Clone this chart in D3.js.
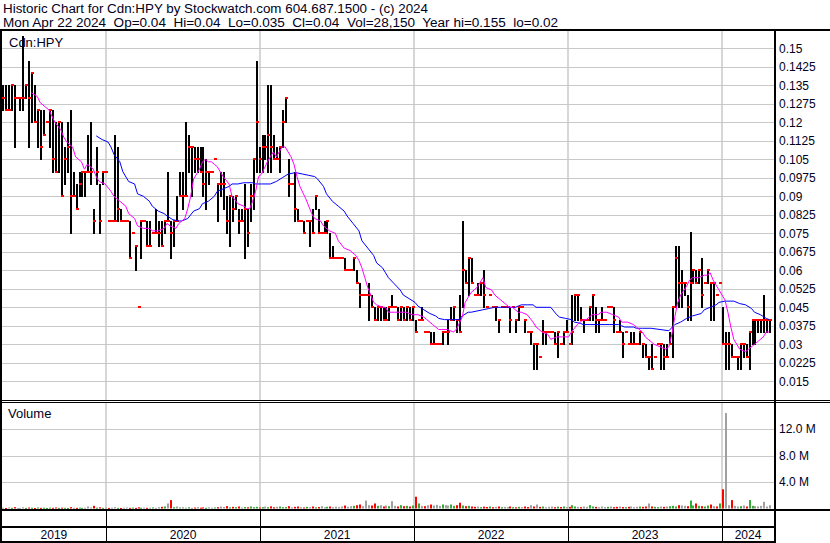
<!DOCTYPE html>
<html><head><meta charset="utf-8">
<script src="https://cdn.jsdelivr.net/npm/d3@7"></script>
<style>body{margin:0;background:#fff;overflow:hidden}svg{display:block}text{font-family:"Liberation Sans",Arial,sans-serif;fill:#000022}</style>
</head><body><svg id="c" width="830" height="543"></svg>
<script>
// ---- data (weekly, first week 2019-04-29) ----
const highs=[.135,.135,.135,.135,.135,.13,.13,.155,.135,.145,.14,.135,.125,.125,.125,.12,.125,.125,.12,.12,
.12,.11,.12,.125,.10,.095,.10,.10,.10,.115,.12,.085,.11,.095,.10,.10,.08,.08,.115,.11,
.085,.08,.08,.08,.075,.07,.045,.08,.08,.08,.08,.075,.085,.08,.08,.08,.10,.08,.08,.09,
.10,.10,.12,.115,.11,.11,.11,.11,.11,.105,.10,.10,.105,.095,.10,.10,.09,.09,.09,.09,
.085,.085,.095,.085,.095,.105,.145,.11,.115,.115,.135,.135,.115,.11,.11,.125,.13,.105,.095,.10,
.085,.08,.08,.08,.08,.085,.09,.085,.075,.08,.08,.075,.07,.065,.065,.065,.065,.06,.06,.065,
.06,.055,.05,.05,.055,.05,.045,.045,.045,.045,.045,.045,.05,.045,.045,.045,.045,.045,.045,.045,
.04,.04,.045,.035,.035,.035,.035,.03,.03,.035,.035,.04,.045,.045,.04,.05,.08,.06,.065,.065,
.05,.055,.055,.06,.045,.05,.045,.045,.04,.045,.045,.045,.045,.045,.04,.045,.045,.04,.035,.035,
.03,.03,.025,.04,.035,.035,.035,.035,.035,.03,.035,.04,.03,.05,.05,.05,.045,.04,.04,.045,
.05,.045,.04,.045,.04,.045,.045,.045,.035,.04,.035,.035,.03,.035,.035,.03,.035,.03,.03,.025,
.03,.025,.03,.03,.03,.03,.035,.045,.07,.07,.06,.055,.05,.0755,.06,.06,.06,.065,.055,.06,
.055,.055,.05,.055,.045,.035,.035,.03,.025,.025,.03,.03,.03,.035,.04,.04,.04,.04,.05,.04,.04];
const lows=[.125,.125,.125,.125,.11,.13,.125,.125,.13,.11,.12,.12,.11,.105,.115,.12,.11,.10,.10,.10,
.09,.095,.10,.075,.09,.085,.09,.09,.09,.10,.095,.075,.095,.075,.095,.10,.08,.08,.08,.08,
.08,.08,.08,.065,.075,.06,.045,.065,.08,.07,.07,.075,.075,.07,.07,.075,.08,.065,.07,.08,
.09,.085,.09,.10,.09,.10,.10,.10,.09,.085,.095,.10,.105,.08,.09,.085,.075,.07,.08,.085,
.075,.08,.065,.07,.08,.085,.10,.10,.10,.105,.10,.10,.105,.105,.10,.11,.12,.09,.095,.08,
.08,.08,.075,.08,.07,.075,.085,.075,.075,.075,.075,.065,.065,.065,.065,.065,.06,.06,.06,.06,
.055,.045,.05,.05,.04,.045,.04,.04,.04,.04,.04,.04,.045,.045,.04,.04,.04,.04,.04,.04,
.035,.04,.04,.035,.035,.03,.03,.03,.03,.03,.035,.03,.04,.04,.035,.035,.045,.055,.05,.055,
.05,.05,.05,.045,.045,.05,.045,.04,.035,.045,.045,.045,.035,.045,.035,.04,.045,.035,.035,.03,
.02,.02,.025,.03,.03,.035,.035,.03,.025,.03,.03,.035,.03,.03,.04,.04,.04,.035,.04,.04,
.04,.035,.035,.04,.04,.045,.045,.035,.035,.035,.025,.035,.03,.03,.03,.03,.03,.025,.025,.02,
.02,.025,.03,.02,.02,.025,.03,.025,.045,.045,.045,.05,.04,.04,.055,.055,.055,.045,.055,.055,
.04,.04,.05,.055,.03,.02,.02,.025,.025,.02,.02,.025,.025,.02,.03,.03,.035,.035,.035,.035,.035];
const closes=[.13,.125,.125,.135,.13,.13,.13,.13,.135,.13,.14,.12,.125,.11,.115,.12,.125,.105,.10,.12,
.09,.105,.11,.09,.09,.085,.095,.10,.10,.10,.10,.08,.10,.08,.10,.10,.08,.08,.08,.085,
.08,.08,.08,.065,.075,.07,.045,.08,.08,.07,.07,.075,.075,.075,.07,.08,.08,.075,.08,.08,
.09,.09,.09,.11,.11,.105,.105,.10,.095,.10,.10,.10,.105,.095,.095,.095,.08,.09,.085,.09,
.08,.08,.085,.075,.09,.105,.12,.105,.11,.11,.115,.11,.105,.105,.11,.12,.13,.095,.095,.085,
.08,.08,.075,.08,.08,.075,.09,.075,.075,.075,.08,.065,.065,.065,.065,.065,.06,.06,.06,.065,
.055,.05,.05,.05,.05,.045,.04,.045,.045,.04,.04,.045,.045,.045,.04,.045,.04,.045,.04,.045,
.035,.04,.04,.035,.035,.03,.03,.03,.03,.035,.035,.035,.04,.045,.04,.035,.06,.055,.065,.055,
.05,.05,.055,.05,.045,.05,.045,.045,.04,.045,.045,.045,.04,.045,.04,.045,.045,.04,.035,.035,
.03,.03,.025,.035,.035,.035,.035,.03,.035,.03,.035,.035,.03,.035,.05,.05,.04,.04,.04,.045,
.05,.04,.04,.04,.04,.045,.045,.04,.035,.035,.03,.035,.03,.03,.03,.03,.035,.03,.025,.025,
.02,.025,.03,.03,.025,.025,.03,.045,.065,.055,.055,.055,.045,.055,.06,.055,.06,.05,.055,.06,
.055,.055,.05,.055,.03,.03,.03,.025,.025,.025,.03,.03,.025,.035,.04,.04,.04,.04,.04,.04,.04];
const volumes=[0.12,0.08,0.15,0.1,0.2,0.06,0.1,0.18,0.09,0.14,0.11,0.07,0.16,0.1,0.12,0.08,0.13,0.1,0.15,0.09,
0.12,0.1,0.08,0.2,0.11,0.09,0.14,0.1,0.12,0.3,0.15,0.4,0.12,0.18,0.1,0.14,0.09,0.12,0.2,0.1,
0.08,0.12,0.15,0.1,0.13,0.09,0.18,0.11,0.14,0.1,0.12,0.16,0.1,0.2,0.25,0.3,0.76,1.27,0.2,0.3,
0.15,0.2,0.12,0.18,0.1,0.14,0.2,0.12,0.16,0.1,0.18,0.12,0.15,0.2,0.3,0.22,0.36,0.18,0.25,0.2,
0.3,0.15,0.22,0.18,0.3,0.2,0.25,0.15,0.2,0.28,0.2,0.32,0.18,0.25,0.3,0.2,0.22,0.35,0.18,0.25,
0.3,0.2,0.15,0.25,0.2,0.3,0.18,0.22,0.35,0.2,0.25,0.3,0.2,0.28,0.22,0.3,0.45,0.25,0.35,0.4,
0.5,0.6,0.35,1.2,0.5,0.45,0.76,0.4,0.5,0.3,0.45,0.35,1.1,0.4,0.3,0.5,0.35,0.4,0.3,0.45,
1.78,0.76,0.4,0.35,0.5,0.6,0.45,0.55,0.4,0.6,0.5,0.45,0.6,0.4,0.5,0.87,0.45,0.35,0.4,0.3,
0.25,0.3,0.2,0.28,0.22,0.3,0.2,0.25,0.3,0.2,0.25,0.22,0.3,0.2,0.18,0.25,0.2,0.3,0.22,0.5,
0.3,0.6,0.25,0.3,0.2,0.25,0.3,0.2,0.28,0.22,0.3,0.2,0.25,0.5,0.3,0.25,0.2,0.3,0.25,0.5,
0.3,0.25,0.2,0.3,0.22,0.25,0.3,0.2,0.25,0.3,0.22,0.2,0.25,0.3,0.2,0.25,0.3,0.25,0.3,0.76,
0.3,0.25,0.2,0.3,0.25,0.3,0.35,0.4,0.3,0.5,0.45,0.4,0.35,1.2,0.45,0.76,0.4,0.35,0.3,0.45,
0.6,0.35,0.3,0.76,2.9,14.4,0.5,1.27,0.4,0.3,0.35,0.45,0.3,1.27,0.4,0.35,0.3,0.4,1.0,0.3,0.5];
// moving averages: [week index, value]
const maFast=[[10,.132],[12,.1305],[13,.128],[15,.126],[16,.125],[18,.12],[20,.117],[21,.114],[22,.112],[24,.11],[25,.106],[27,.104],[28,.101],[29,.103],[31,.101],[32,.098],[33,.096],[35,.095],[37,.092],[38,.09],[40,.088],[42,.086],[43,.083],[45,.081],[46,.078],[48,.077],[50,.077],[51,.076],[53,.076],[55,.077],[56,.079],[57,.078],[59,.077],[60,.079],[62,.081],[63,.085],[64,.09],[65,.097],[67,.101],[68,.104],[69,.105],[70,.104],[71,.104],[72,.103],[73,.102],[75,.098],[77,.095],[78,.09],[80,.087],[82,.086],[83,.085],[84,.085],[85,.088],[86,.092],[87,.098],[88,.099],[90,.104],[91,.106],[92,.108],[93,.106],[94,.108],[95,.11],[96,.11],[97,.108],[98,.106],[99,.103],[100,.098],[101,.094],[103,.089],[104,.086],[105,.083],[106,.081],[108,.08],[109,.078],[111,.076],[113,.075],[114,.072],[116,.069],[118,.068],[120,.066],[121,.064],[122,.061],[123,.057],[124,.053],[125,.05],[126,.047],[127,.046],[129,.045],[130,.045],[131,.043],[133,.043],[135,.043],[137,.043],[139,.042],[141,.042],[143,.041],[144,.04],[146,.038],[148,.036],[149,.036],[151,.036],[153,.035],[154,.036],[156,.041],[157,.047],[158,.049],[159,.051],[161,.053],[162,.055],[163,.057],[164,.053],[166,.052],[167,.05],[169,.048],[171,.046],[172,.045],[173,.045],[175,.043],[176,.043],[178,.042],[180,.039],[181,.037],[183,.035],[185,.034],[186,.032],[188,.033],[190,.033],[192,.033],[193,.035],[195,.038],[197,.04],[198,.04],[200,.042],[202,.042],[203,.043],[205,.043],[207,.042],[209,.041],[210,.039],[212,.039],[214,.038],[215,.037],[217,.035],[218,.033],[220,.031],[221,.03],[223,.029],[225,.028],[226,.029],[227,.034],[228,.041],[229,.047],[230,.05],[232,.0535],[233,.056],[234,.057],[236,.057],[238,.058],[239,.058],[240,.059],[241,.056],[243,.052],[245,.048],[246,.043],[247,.037],[248,.032],[250,.028],[252,.027],[253,.028],[255,.03],[256,.031],[258,.033],[259,.035],[260,.035]];
const maSlow=[[32,.1145],[34,.113],[36,.112],[37,.11],[38,.107],[40,.104],[41,.10],[43,.096],[45,.095],[46,.091],[48,.09],[50,.088],[51,.086],[53,.084],[55,.083],[56,.082],[58,.0805],[60,.08],[61,.08],[63,.081],[65,.084],[67,.085],[68,.087],[70,.088],[72,.09],[73,.092],[75,.093],[77,.094],[78,.095],[80,.095],[82,.0955],[83,.0955],[85,.0955],[86,.095],[88,.095],[91,.095],[93,.096],[95,.0975],[97,.099],[99,.0995],[100,.0995],[102,.099],[104,.0985],[106,.098],[107,.097],[109,.094],[110,.091],[112,.088],[114,.086],[116,.084],[117,.082],[119,.079],[121,.076],[122,.072],[124,.069],[126,.066],[127,.063],[129,.061],[130,.059],[131,.057],[133,.0545],[135,.052],[136,.05],[138,.0485],[140,.047],[141,.0455],[143,.044],[145,.0425],[147,.0415],[148,.0405],[150,.04],[152,.04],[153,.04],[155,.04],[156,.0415],[158,.043],[159,.043],[161,.0435],[163,.044],[165,.0445],[167,.045],[169,.045],[171,.045],[174,.045],[175,.0455],[176,.046],[178,.046],[180,.046],[181,.045],[183,.045],[185,.045],[186,.045],[188,.042],[189,.041],[191,.0405],[193,.04],[194,.039],[196,.0385],[197,.038],[199,.038],[202,.038],[206,.038],[209,.038],[210,.0375],[211,.037],[214,.037],[215,.0365],[217,.0365],[220,.0365],[223,.036],[226,.0355],[228,.038],[230,.039],[232,.0405],[234,.0415],[237,.0425],[238,.044],[240,.045],[242,.046],[243,.047],[245,.0475],[247,.0475],[248,.0475],[250,.0465],[252,.046],[254,.0445],[255,.043],[257,.042],[259,.0405],[260,.04]];
const priceTicks=["0.15","0.1425","0.135","0.1275","0.12","0.1125","0.105","0.0975","0.09","0.0825","0.075","0.0675","0.06","0.0525","0.045","0.0375","0.03","0.0225","0.015"];
const volTicks=[4,8,12];
const volTickLabels=["4.0 M","8.0 M","12.0 M"];
const years=[2019,2020,2021,2022,2023,2024];
const title1="Historic Chart for Cdn:HPY by Stockwatch.com 604.687.1500 - (c) 2024";
const title2="Mon Apr 22 2024  Op=0.04  Hi=0.04  Lo=0.035  Cl=0.04  Vol=28,150  Year hi=0.155  lo=0.02";

// ---- drawing ----
const svg=d3.select("#c");
const weeks=d3.timeMonday.range(new Date(2019,3,29),new Date(2024,3,23)).slice(0,closes.length);
const x=d3.scaleTime().domain([new Date(2019,0,1),new Date(2024,0,1)]).range([-48,722]);
const y=d3.scaleLinear().domain([0.015,0.15]).range([381.3,48.3]);
const yv=d3.scaleLinear().domain([0,12]).range([508.5,429]);
const PL=2,PR=774,PT=31,PB=400,VT=402,VB=509;

svg.append("rect").attr("width",830).attr("height",543).attr("fill","#fff");
const defs=svg.append("defs");
defs.append("clipPath").attr("id","cp").append("rect").attr("x",PL).attr("y",PT).attr("width",PR-PL).attr("height",PB-PT);
defs.append("clipPath").attr("id","cv").append("rect").attr("x",PL).attr("y",VT).attr("width",PR-PL).attr("height",VB-VT);

// grid
const grid=svg.append("g").attr("stroke","#c8c8c8").attr("stroke-width",1);
priceTicks.forEach(t=>{const yy=Math.round(y(+t))+0.5;grid.append("line").attr("x1",PL).attr("x2",PR).attr("y1",yy).attr("y2",yy);});
volTicks.forEach(t=>{const yy=Math.round(yv(t))+0.5;grid.append("line").attr("x1",PL).attr("x2",PR).attr("y1",yy).attr("y2",yy);});
years.slice(1).forEach(yr=>{const xx=Math.round(x(new Date(yr,0,1)));
  grid.append("line").attr("x1",xx).attr("x2",xx).attr("y1",PT).attr("y2",PB).attr("stroke-width",1.5);
  grid.append("line").attr("x1",xx).attr("x2",xx).attr("y1",VT).attr("y2",VB).attr("stroke-width",1.5);});

// price bars
const pg=svg.append("g").attr("clip-path","url(#cp)");
weeks.forEach((d,i)=>{
  const xx=Math.round(x(d))+1;
  if(highs[i]!==lows[i]) pg.append("line").attr("x1",xx).attr("x2",xx).attr("y1",Math.round(y(highs[i]))).attr("y2",Math.round(y(lows[i]))+1).attr("stroke","#000").attr("stroke-width",2);
});
weeks.forEach((d,i)=>{
  pg.append("rect").attr("x",Math.round(x(d))).attr("y",Math.round(y(closes[i]))-1).attr("width",3).attr("height",2).attr("fill","#ff0000");
});
const line=d3.line().x(p=>x(weeks[p[0]])).y(p=>y(p[1]));
pg.append("path").attr("d",line(maSlow)).attr("fill","none").attr("stroke","#0000ff").attr("stroke-width",1);
pg.append("path").attr("d",line(maFast)).attr("fill","none").attr("stroke","#ff00ff").attr("stroke-width",1);

// volume
const vg=svg.append("g").attr("clip-path","url(#cv)");
weeks.forEach((d,i)=>{
  const c=i===0?"#a0a0a0":(closes[i]>closes[i-1]?"#33aa33":(closes[i]<closes[i-1]?"#ff0000":"#a0a0a0"));
  const top=yv(volumes[i]);
  vg.append("rect").attr("x",Math.round(x(d))).attr("y",top).attr("width",2).attr("height",Math.max(1,yv(0)-top)).attr("fill",c);
});

// frame lines
const blk=(x0,y0,w,h)=>svg.append("rect").attr("x",x0).attr("y",y0).attr("width",w).attr("height",h).attr("fill","#000");
blk(0,29,830,2);
blk(0,30,2,513);
blk(774,30,2,513);
blk(0,400,830,1);
blk(0,402,830,1);
blk(0,509,830,2);
blk(0,526,776,2);
blk(0,541,776,2);
years.slice(1).forEach(yr=>{const xx=Math.round(x(new Date(yr,0,1)));blk(xx,511,1,31);});

// texts
svg.append("text").attr("x",3).attr("y",13).attr("font-size",12).attr("textLength",425).attr("lengthAdjust","spacingAndGlyphs").text(title1);
svg.append("text").attr("x",3).attr("y",27).attr("font-size",12).attr("textLength",555).attr("lengthAdjust","spacingAndGlyphs").style("white-space","pre").text(title2);
svg.append("text").attr("x",9).attr("y",47).attr("font-size",13).text("Cdn:HPY");
svg.append("text").attr("x",8).attr("y",418).attr("font-size",13).text("Volume");
priceTicks.forEach(t=>svg.append("text").attr("x",779).attr("y",y(+t)).attr("dy","0.36em").attr("font-size",12).text(t));
volTicks.forEach((t,i)=>svg.append("text").attr("x",779).attr("y",yv(t)).attr("dy","0.36em").attr("font-size",12).text(volTickLabels[i]));
years.forEach(yr=>{
  const a=Math.max(PL,x(new Date(yr,0,1))),b=Math.min(PR,x(new Date(yr+1,0,1)));
  svg.append("text").attr("x",(a+b)/2).attr("y",539).attr("text-anchor","middle").attr("font-size",12).text(yr);
});
</script></body></html>
